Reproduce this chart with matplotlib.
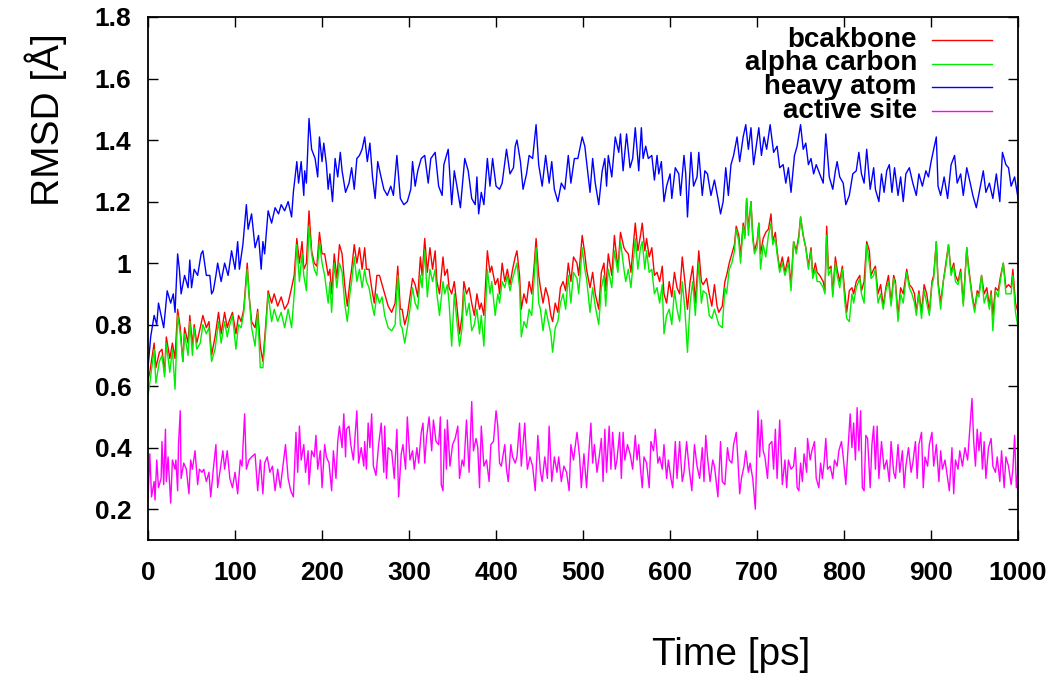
# RMSD vs time plot (gnuplot style)

import matplotlib
matplotlib.use("Agg")
import matplotlib.pyplot as plt
from matplotlib.lines import Line2D
from matplotlib.ticker import FuncFormatter, MultipleLocator

plt.rcParams['font.family'] = ['Liberation Sans', 'DejaVu Sans']

# heavy atom RMSD
t_heavy = [0, 3, 7, 10, 12, 18, 22, 26, 29, 31, 34, 36, 38, 42, 46, 48, 50, 53, 57, 61,
           63, 67, 71, 73, 75, 78, 80, 84, 88, 92, 96, 100, 103, 105, 109, 113, 115, 119, 123, 127,
           130, 132, 134, 138, 142, 146, 150, 153, 157, 161, 165, 167, 171, 173, 176, 179, 180, 182, 185, 188,
           192, 195, 197, 200, 202, 205, 207, 209, 212, 215, 218, 221, 223, 227, 231, 234, 237, 240, 243, 246,
           249, 252, 255, 258, 261, 264, 267, 271, 275, 279, 282, 286, 290, 294, 298, 302, 304, 307, 310, 314,
           318, 322, 325, 330, 334, 338, 340, 345, 349, 352, 355, 359, 364, 368, 372, 376, 378, 380, 383, 386,
           390, 393, 396, 400, 404, 407, 412, 416, 420, 422, 424, 428, 431, 435, 438, 442, 446, 449, 453, 457,
           461, 464, 467, 471, 475, 479, 483, 486, 490, 494, 499, 502, 504, 508, 511, 514, 518, 522, 525, 527,
           529, 533, 537, 541, 543, 546, 550, 554, 557, 560, 564, 567, 569, 572, 575, 579, 582, 585, 587, 590,
           593, 596, 600, 602, 606, 610, 612, 616, 618, 620, 624, 627, 631, 633, 637, 640, 643, 647, 651, 655,
           658, 661, 664, 667, 670, 673, 677, 680, 684, 687, 690, 693, 696, 699, 702, 705, 708, 711, 715, 719,
           723, 726, 730, 733, 736, 739, 743, 746, 750, 753, 756, 759, 762, 765, 768, 772, 776, 779, 783, 787,
           790, 792, 795, 799, 802, 806, 810, 814, 817, 820, 823, 826, 830, 834, 836, 840, 843, 846, 849, 852,
           855, 858, 862, 865, 868, 871, 875, 879, 883, 886, 890, 894, 897, 900, 903, 906, 908, 911, 915, 919,
           923, 927, 930, 934, 937, 941, 945, 948, 952, 956, 960, 963, 967, 971, 975, 979, 982, 986, 989, 992,
           996, 1000]
rmsd_heavy = [0.66, 0.76, 0.83, 0.80, 0.87, 0.79, 0.91, 0.87, 0.90, 0.84, 1.03, 0.98, 0.90, 0.96, 0.92, 1.01, 0.92, 0.98, 0.96, 1.03,
              1.04, 0.96, 0.96, 0.90, 0.91, 0.96, 1.00, 0.94, 1.00, 0.96, 1.04, 0.98, 1.07, 0.98, 1.06, 1.19, 1.11, 1.16, 1.05, 1.09,
              0.98, 1.07, 1.03, 1.17, 1.13, 1.18, 1.16, 1.19, 1.17, 1.20, 1.15, 1.23, 1.33, 1.26, 1.33, 1.22, 1.30, 1.26, 1.47, 1.37,
              1.34, 1.28, 1.41, 1.33, 1.39, 1.32, 1.24, 1.29, 1.20, 1.34, 1.28, 1.36, 1.30, 1.23, 1.26, 1.31, 1.24, 1.34, 1.35, 1.37,
              1.41, 1.33, 1.39, 1.28, 1.21, 1.33, 1.29, 1.24, 1.22, 1.25, 1.22, 1.35, 1.21, 1.19, 1.20, 1.24, 1.33, 1.25, 1.30, 1.34,
              1.35, 1.26, 1.34, 1.36, 1.25, 1.22, 1.32, 1.37, 1.19, 1.30, 1.25, 1.18, 1.34, 1.30, 1.21, 1.19, 1.28, 1.16, 1.23, 1.19,
              1.34, 1.25, 1.34, 1.25, 1.24, 1.26, 1.37, 1.29, 1.31, 1.38, 1.40, 1.33, 1.24, 1.29, 1.35, 1.34, 1.45, 1.32, 1.25, 1.35,
              1.26, 1.33, 1.24, 1.20, 1.26, 1.24, 1.35, 1.26, 1.34, 1.34, 1.41, 1.38, 1.33, 1.23, 1.34, 1.26, 1.19, 1.30, 1.34, 1.25,
              1.35, 1.28, 1.41, 1.36, 1.42, 1.30, 1.42, 1.31, 1.34, 1.44, 1.30, 1.44, 1.34, 1.38, 1.34, 1.35, 1.27, 1.35, 1.29, 1.33,
              1.20, 1.25, 1.29, 1.21, 1.31, 1.29, 1.22, 1.35, 1.29, 1.15, 1.36, 1.25, 1.28, 1.36, 1.22, 1.30, 1.29, 1.22, 1.27, 1.21,
              1.16, 1.20, 1.31, 1.22, 1.32, 1.35, 1.41, 1.33, 1.41, 1.45, 1.37, 1.44, 1.32, 1.38, 1.44, 1.35, 1.41, 1.37, 1.45, 1.36,
              1.38, 1.31, 1.32, 1.26, 1.31, 1.23, 1.35, 1.38, 1.45, 1.37, 1.39, 1.32, 1.34, 1.29, 1.32, 1.29, 1.26, 1.42, 1.28, 1.24,
              1.30, 1.33, 1.28, 1.26, 1.19, 1.22, 1.29, 1.30, 1.36, 1.29, 1.26, 1.37, 1.24, 1.31, 1.24, 1.20, 1.29, 1.23, 1.30, 1.32,
              1.23, 1.31, 1.22, 1.28, 1.20, 1.29, 1.31, 1.26, 1.22, 1.29, 1.25, 1.30, 1.28, 1.33, 1.37, 1.41, 1.25, 1.22, 1.28, 1.21,
              1.32, 1.35, 1.26, 1.29, 1.22, 1.31, 1.26, 1.22, 1.18, 1.24, 1.30, 1.23, 1.26, 1.21, 1.29, 1.20, 1.36, 1.32, 1.31, 1.25,
              1.28, 1.21]

# backbone and alpha carbon share the same time points
t_bb = [0, 2, 7, 9, 13, 16, 19, 21, 25, 28, 31, 34, 37, 40, 42, 46, 48, 51, 53, 56,
        60, 63, 67, 70, 73, 77, 81, 84, 88, 91, 93, 97, 101, 104, 107, 110, 114, 116, 119, 123,
        126, 129, 132, 135, 138, 142, 145, 149, 153, 157, 161, 165, 168, 171, 174, 177, 179, 182, 185, 188,
        191, 194, 197, 200, 203, 207, 209, 211, 214, 217, 220, 223, 226, 229, 232, 234, 237, 240, 243, 246,
        249, 251, 254, 257, 260, 263, 266, 269, 272, 276, 280, 284, 287, 290, 292, 295, 298, 301, 304, 307,
        310, 313, 315, 318, 321, 324, 327, 330, 332, 335, 339, 341, 344, 346, 349, 352, 355, 358, 361, 363,
        366, 369, 372, 375, 378, 381, 383, 386, 390, 393, 395, 399, 402, 404, 407, 410, 413, 416, 419, 422,
        424, 427, 429, 432, 435, 438, 441, 444, 446, 449, 451, 454, 457, 460, 463, 465, 468, 471, 474, 477,
        480, 483, 486, 489, 493, 495, 499, 502, 504, 508, 511, 514, 518, 521, 524, 526, 529, 533, 536, 540,
        543, 547, 549, 552, 555, 560, 563, 566, 568, 571, 573, 576, 579, 582, 585, 588, 591, 593, 596, 599,
        602, 605, 608, 611, 614, 617, 620, 623, 626, 629, 633, 636, 638, 642, 645, 648, 651, 654, 656, 660,
        663, 665, 668, 671, 674, 676, 679, 681, 684, 686, 688, 690, 693, 695, 697, 700, 702, 704, 707, 710,
        713, 716, 718, 721, 723, 726, 729, 732, 736, 739, 742, 745, 748, 750, 753, 756, 759, 762, 764, 767,
        769, 772, 776, 778, 780, 782, 785, 787, 790, 792, 795, 798, 801, 803, 806, 809, 811, 814, 818, 820,
        823, 826, 829, 831, 834, 836, 839, 842, 845, 848, 851, 854, 857, 859, 862, 865, 868, 872, 875, 878,
        881, 883, 886, 889, 892, 895, 898, 901, 903, 906, 908, 911, 914, 917, 920, 923, 926, 928, 931, 934,
        937, 941, 943, 947, 950, 953, 955, 958, 961, 964, 967, 969, 971, 974, 977, 980, 983, 986, 989, 992,
        994, 997, 1000]
rmsd_backbone = [0.62, 0.645, 0.74, 0.66, 0.71, 0.72, 0.645, 0.76, 0.69, 0.74, 0.69, 0.85, 0.79, 0.68, 0.79, 0.74, 0.83, 0.73, 0.80, 0.74,
                 0.79, 0.83, 0.79, 0.81, 0.70, 0.76, 0.84, 0.77, 0.84, 0.79, 0.81, 0.84, 0.77, 0.83, 0.81, 0.85, 1.00, 0.90, 0.81, 0.79,
                 0.85, 0.73, 0.68, 0.79, 0.91, 0.87, 0.90, 0.86, 0.89, 0.85, 0.87, 0.92, 0.96, 1.08, 1.00, 1.07, 0.98, 1.00, 1.17, 1.04,
                 1.00, 0.99, 1.10, 1.03, 1.03, 0.96, 0.98, 0.90, 1.03, 0.95, 1.06, 1.03, 0.93, 0.86, 0.94, 0.98, 1.06, 1.00, 1.05, 0.98,
                 1.05, 0.98, 0.98, 0.92, 0.87, 0.96, 0.96, 0.93, 0.90, 0.86, 0.84, 0.87, 0.99, 0.85, 0.85, 0.80, 0.83, 0.89, 0.95, 0.93,
                 0.89, 1.02, 0.96, 1.08, 0.97, 1.05, 0.98, 1.04, 0.94, 0.90, 1.02, 0.96, 0.98, 0.92, 0.90, 0.94, 0.86, 0.77, 0.83, 0.94,
                 0.90, 0.92, 0.87, 0.83, 0.90, 0.85, 0.87, 0.83, 1.04, 0.97, 0.99, 0.93, 0.95, 0.90, 1.00, 0.94, 0.98, 0.93, 0.98, 1.02,
                 1.04, 0.96, 0.85, 0.90, 0.87, 0.94, 0.90, 1.00, 1.08, 0.96, 0.92, 0.87, 0.92, 0.89, 0.83, 0.81, 0.87, 0.84, 0.92, 0.94,
                 0.91, 1.00, 0.94, 1.02, 1.00, 0.96, 1.09, 1.03, 0.98, 0.92, 0.97, 0.90, 0.85, 0.97, 1.00, 0.91, 1.03, 0.96, 1.09, 0.98,
                 1.10, 1.05, 1.04, 1.03, 0.97, 1.13, 1.04, 1.09, 1.13, 1.04, 1.08, 1.02, 1.05, 0.96, 0.97, 0.94, 0.99, 0.90, 0.87, 0.94,
                 0.89, 0.97, 0.92, 0.90, 1.02, 0.94, 0.85, 0.94, 0.99, 0.87, 1.04, 0.94, 0.93, 0.95, 0.90, 0.86, 0.93, 0.86, 0.84, 0.86,
                 0.94, 0.96, 1.00, 1.03, 1.06, 1.12, 1.09, 1.02, 1.13, 1.09, 1.21, 1.11, 1.20, 1.09, 1.04, 1.07, 1.13, 1.03, 1.08, 1.10,
                 1.11, 1.16, 1.07, 1.10, 1.04, 0.98, 1.02, 0.97, 1.02, 0.93, 1.07, 1.04, 1.09, 1.15, 1.09, 1.05, 0.99, 1.05, 0.96, 1.00,
                 0.97, 0.96, 0.94, 0.91, 1.12, 0.98, 0.99, 0.90, 1.02, 0.98, 0.94, 0.99, 0.90, 0.84, 0.91, 0.92, 0.90, 0.94, 0.96, 0.91,
                 0.94, 1.07, 1.04, 0.96, 0.98, 0.99, 0.90, 0.93, 0.86, 0.92, 0.96, 0.87, 0.96, 0.94, 0.83, 0.92, 0.90, 0.98, 0.93, 0.92,
                 0.90, 0.84, 0.91, 0.84, 0.93, 0.90, 0.84, 0.94, 0.96, 1.07, 0.94, 0.87, 0.94, 1.00, 1.06, 0.97, 1.00, 0.96, 0.94, 0.98,
                 0.87, 1.05, 0.99, 0.90, 0.85, 0.91, 0.90, 0.96, 0.90, 0.92, 0.86, 0.91, 0.83, 0.92, 0.91, 0.96, 1.00, 0.92, 0.93, 0.92,
                 0.98, 0.87, 0.84]
rmsd_alpha = [0.57, 0.61, 0.72, 0.61, 0.68, 0.70, 0.63, 0.74, 0.645, 0.72, 0.59, 0.83, 0.77, 0.68, 0.77, 0.70, 0.81, 0.70, 0.79, 0.72,
              0.74, 0.80, 0.77, 0.79, 0.68, 0.72, 0.81, 0.74, 0.81, 0.76, 0.79, 0.83, 0.72, 0.80, 0.79, 0.84, 0.98, 0.90, 0.79, 0.73,
              0.84, 0.66, 0.66, 0.77, 0.90, 0.81, 0.85, 0.81, 0.84, 0.79, 0.85, 0.79, 0.90, 1.06, 0.94, 1.03, 0.96, 0.91, 1.12, 1.03,
              0.98, 0.96, 1.07, 1.00, 0.96, 0.87, 0.94, 0.84, 1.00, 0.92, 1.00, 0.97, 0.87, 0.81, 0.90, 0.94, 1.02, 0.94, 0.98, 0.92,
              0.98, 0.94, 0.92, 0.87, 0.83, 0.90, 0.87, 0.89, 0.83, 0.79, 0.78, 0.80, 0.96, 0.80, 0.79, 0.74, 0.79, 0.85, 0.92, 0.87,
              0.85, 0.96, 0.92, 1.04, 0.89, 0.98, 0.94, 0.98, 0.90, 0.83, 0.94, 0.90, 0.93, 0.87, 0.73, 0.90, 0.81, 0.73, 0.79, 0.91,
              0.83, 0.87, 0.78, 0.80, 0.85, 0.77, 0.83, 0.73, 0.98, 0.90, 0.94, 0.83, 0.90, 0.87, 0.94, 0.92, 0.96, 0.91, 0.95, 0.98,
              1.00, 0.92, 0.76, 0.81, 0.79, 0.85, 0.83, 0.96, 1.05, 0.87, 0.85, 0.78, 0.85, 0.81, 0.77, 0.71, 0.79, 0.81, 0.87, 0.90,
              0.85, 0.96, 0.87, 0.97, 0.95, 0.90, 1.05, 0.98, 0.95, 0.84, 0.92, 0.86, 0.80, 0.92, 0.96, 0.86, 0.98, 0.92, 1.04, 0.97,
              1.07, 0.98, 0.94, 0.98, 0.92, 1.08, 0.98, 1.05, 1.07, 0.98, 1.04, 0.97, 0.98, 0.90, 0.92, 0.87, 0.93, 0.77, 0.83, 0.85,
              0.80, 0.91, 0.85, 0.81, 0.94, 0.85, 0.71, 0.87, 0.94, 0.83, 1.00, 0.87, 0.91, 0.90, 0.83, 0.82, 0.85, 0.82, 0.80, 0.79,
              0.92, 0.90, 0.98, 1.00, 1.04, 1.11, 1.07, 1.00, 1.12, 1.08, 1.21, 1.09, 1.20, 1.08, 1.03, 1.05, 1.13, 0.98, 1.06, 1.02,
              1.09, 1.13, 1.06, 1.08, 1.03, 0.97, 1.00, 0.96, 1.00, 0.91, 1.07, 1.03, 1.08, 1.15, 1.09, 1.05, 0.98, 1.04, 0.95, 0.98,
              0.94, 0.94, 0.92, 0.90, 1.09, 0.96, 0.98, 0.89, 1.00, 0.96, 0.92, 0.98, 0.87, 0.82, 0.81, 0.90, 0.87, 0.92, 0.95, 0.90,
              0.87, 1.06, 1.00, 0.95, 0.96, 0.98, 0.87, 0.90, 0.85, 0.91, 0.94, 0.86, 0.95, 0.93, 0.81, 0.90, 0.87, 0.97, 0.92, 0.90,
              0.87, 0.83, 0.90, 0.82, 0.91, 0.87, 0.83, 0.93, 0.95, 1.07, 0.93, 0.85, 0.94, 0.99, 1.06, 0.96, 0.99, 0.94, 0.93, 0.97,
              0.86, 1.05, 0.98, 0.89, 0.84, 0.90, 0.89, 0.96, 0.87, 0.90, 0.85, 0.90, 0.78, 0.91, 0.89, 0.95, 1.00, 0.90, 0.90, 0.90,
              0.96, 0.84, 0.79]

# active site RMSD
t_site = [0, 2, 4, 7, 8, 10, 12, 15, 16, 18, 20, 21, 23, 26, 28, 31, 32, 34, 35, 37,
          38, 41, 44, 47, 49, 51, 54, 57, 59, 62, 64, 67, 70, 72, 75, 78, 80, 83, 86, 88,
          91, 94, 97, 100, 103, 106, 108, 111, 113, 116, 119, 123, 126, 129, 132, 134, 137, 140, 143, 146,
          149, 152, 155, 158, 161, 164, 167, 170, 172, 174, 176, 179, 181, 184, 185, 188, 191, 193, 195, 198,
          200, 203, 205, 208, 211, 213, 216, 218, 220, 223, 225, 227, 228, 231, 233, 236, 240, 242, 245, 248,
          249, 251, 253, 255, 257, 259, 262, 265, 268, 271, 272, 274, 276, 280, 283, 286, 288, 291, 293, 296,
          298, 301, 304, 306, 309, 311, 314, 316, 318, 320, 323, 326, 328, 331, 334, 336, 337, 339, 341, 343,
          344, 347, 350, 353, 356, 358, 361, 363, 366, 369, 372, 374, 377, 379, 381, 383, 386, 389, 392, 394,
          397, 400, 402, 404, 406, 410, 412, 414, 417, 419, 422, 424, 427, 429, 433, 434, 436, 439, 442, 445,
          448, 451, 453, 456, 459, 461, 464, 467, 470, 472, 475, 478, 481, 484, 486, 489, 493, 496, 498, 501,
          504, 506, 509, 511, 513, 516, 519, 521, 523, 525, 527, 530, 532, 534, 537, 539, 542, 544, 546, 548,
          551, 554, 557, 560, 562, 564, 566, 568, 570, 573, 576, 578, 581, 583, 586, 588, 591, 593, 596, 598,
          601, 603, 606, 608, 611, 614, 616, 619, 622, 625, 628, 631, 634, 637, 639, 641, 643, 646, 649, 651,
          655, 658, 660, 663, 666, 668, 671, 673, 676, 678, 680, 682, 685, 687, 690, 692, 695, 698, 701, 703,
          705, 707, 709, 712, 714, 717, 719, 721, 723, 726, 729, 732, 734, 736, 739, 742, 744, 746, 748, 750,
          752, 754, 757, 758, 761, 763, 766, 768, 771, 773, 775, 777, 779, 781, 784, 787, 789, 792, 794, 797,
          799, 802, 804, 807, 809, 811, 813, 815, 817, 819, 821, 823, 825, 827, 830, 832, 834, 836, 838, 840,
          843, 846, 849, 852, 854, 857, 859, 862, 864, 867, 869, 871, 874, 877, 879, 882, 884, 886, 889, 891,
          893, 896, 898, 901, 903, 906, 909, 911, 913, 916, 919, 921, 924, 926, 928, 931, 933, 936, 939, 942,
          945, 947, 949, 951, 953, 955, 957, 959, 961, 963, 966, 969, 971, 974, 976, 979, 981, 984, 986, 989,
          992, 994, 996, 998, 1000]
rmsd_site = [0.23, 0.38, 0.24, 0.29, 0.23, 0.36, 0.27, 0.30, 0.42, 0.28, 0.46, 0.29, 0.37, 0.22, 0.36, 0.33, 0.36, 0.26, 0.41, 0.52,
             0.30, 0.35, 0.33, 0.25, 0.36, 0.33, 0.39, 0.28, 0.33, 0.32, 0.33, 0.29, 0.32, 0.24, 0.33, 0.41, 0.27, 0.33, 0.39, 0.33,
             0.39, 0.30, 0.27, 0.32, 0.25, 0.36, 0.34, 0.51, 0.33, 0.36, 0.37, 0.38, 0.26, 0.36, 0.25, 0.35, 0.37, 0.32, 0.34, 0.26,
             0.33, 0.27, 0.34, 0.41, 0.30, 0.26, 0.24, 0.45, 0.32, 0.47, 0.36, 0.41, 0.32, 0.39, 0.28, 0.39, 0.37, 0.44, 0.33, 0.39,
             0.27, 0.41, 0.37, 0.35, 0.26, 0.39, 0.30, 0.42, 0.47, 0.40, 0.51, 0.37, 0.46, 0.47, 0.41, 0.36, 0.52, 0.35, 0.40, 0.34,
             0.42, 0.33, 0.48, 0.40, 0.51, 0.34, 0.31, 0.41, 0.48, 0.32, 0.47, 0.30, 0.40, 0.39, 0.30, 0.46, 0.24, 0.38, 0.41, 0.33,
             0.50, 0.36, 0.39, 0.33, 0.40, 0.35, 0.45, 0.48, 0.35, 0.43, 0.50, 0.39, 0.49, 0.42, 0.41, 0.50, 0.28, 0.26, 0.46, 0.33,
             0.49, 0.34, 0.41, 0.43, 0.47, 0.30, 0.36, 0.34, 0.49, 0.32, 0.55, 0.39, 0.43, 0.40, 0.27, 0.47, 0.34, 0.36, 0.29, 0.41,
             0.42, 0.52, 0.47, 0.35, 0.34, 0.41, 0.33, 0.29, 0.41, 0.37, 0.35, 0.37, 0.48, 0.34, 0.48, 0.42, 0.33, 0.37, 0.34, 0.26,
             0.44, 0.32, 0.29, 0.37, 0.30, 0.47, 0.29, 0.37, 0.32, 0.37, 0.29, 0.34, 0.32, 0.26, 0.41, 0.36, 0.45, 0.37, 0.27, 0.38,
             0.27, 0.36, 0.48, 0.35, 0.41, 0.32, 0.38, 0.43, 0.29, 0.46, 0.32, 0.47, 0.33, 0.45, 0.33, 0.36, 0.45, 0.30, 0.45, 0.36,
             0.41, 0.38, 0.33, 0.44, 0.36, 0.41, 0.33, 0.27, 0.37, 0.35, 0.27, 0.42, 0.39, 0.46, 0.35, 0.37, 0.33, 0.41, 0.30, 0.36,
             0.30, 0.27, 0.42, 0.30, 0.42, 0.29, 0.32, 0.42, 0.33, 0.26, 0.41, 0.34, 0.30, 0.40, 0.29, 0.44, 0.37, 0.29, 0.36, 0.34,
             0.24, 0.42, 0.29, 0.28, 0.40, 0.36, 0.35, 0.41, 0.45, 0.36, 0.25, 0.30, 0.34, 0.39, 0.32, 0.35, 0.30, 0.20, 0.52, 0.37,
             0.49, 0.39, 0.37, 0.30, 0.41, 0.42, 0.33, 0.46, 0.30, 0.49, 0.28, 0.36, 0.27, 0.36, 0.33, 0.34, 0.40, 0.27, 0.26, 0.35,
             0.29, 0.38, 0.32, 0.43, 0.36, 0.39, 0.42, 0.30, 0.27, 0.35, 0.30, 0.35, 0.43, 0.33, 0.34, 0.30, 0.36, 0.34, 0.39, 0.42,
             0.37, 0.28, 0.37, 0.51, 0.40, 0.48, 0.36, 0.53, 0.39, 0.52, 0.27, 0.26, 0.44, 0.43, 0.27, 0.41, 0.47, 0.33, 0.47, 0.30,
             0.42, 0.33, 0.36, 0.29, 0.42, 0.32, 0.30, 0.41, 0.32, 0.39, 0.27, 0.34, 0.40, 0.32, 0.35, 0.42, 0.30, 0.41, 0.45, 0.27,
             0.37, 0.34, 0.41, 0.45, 0.34, 0.41, 0.29, 0.39, 0.33, 0.36, 0.30, 0.26, 0.40, 0.25, 0.36, 0.33, 0.39, 0.34, 0.40, 0.36,
             0.48, 0.56, 0.42, 0.34, 0.46, 0.39, 0.45, 0.33, 0.42, 0.30, 0.40, 0.43, 0.34, 0.32, 0.37, 0.29, 0.39, 0.27, 0.37, 0.34,
             0.28, 0.33, 0.44, 0.27, 0.33]

labels = ["bcakbone", "alpha carbon", "heavy atom", "active site"]
colors = ["#ff0000", "#00ee00", "#0000ff", "#ff00ff"]

fig = plt.figure(figsize=(10.56, 6.77), dpi=100)
ax = fig.add_axes([0.1402, 0.2024, 0.8239, 0.7725])

# same draw order as gnuplot: later curves on top
ax.plot(t_bb, rmsd_backbone, color=colors[0], lw=1.0)
ax.plot(t_bb, rmsd_alpha, color=colors[1], lw=1.0)
ax.plot(t_heavy, rmsd_heavy, color=colors[2], lw=1.0)
ax.plot(t_site, rmsd_site, color=colors[3], lw=1.0)

ax.set_xlim(0, 1000)
ax.set_ylim(0.1, 1.8)
ax.xaxis.set_major_locator(MultipleLocator(100))
ax.set_yticks([0.2, 0.4, 0.6, 0.8, 1.0, 1.2, 1.4, 1.6, 1.8])
ax.yaxis.set_major_formatter(FuncFormatter(lambda v, p: "%g" % v))

ax.tick_params(direction="in", length=7, width=1, top=True, right=True,
               labelsize=19)
ax.tick_params(axis="x", pad=15)
ax.tick_params(axis="y", pad=12)
for lab in ax.get_xticklabels() + ax.get_yticklabels():
    lab.set_fontweight("bold")
for sp in ax.spines.values():
    sp.set_linewidth(1.3)

# axis titles sit where gnuplot put them
fig.text(0.692, 0.032, "Time [ps]", ha="center", va="center", fontsize=28)
fig.text(0.043, 0.823, "RMSD [Å]", ha="center", va="center", fontsize=28,
         rotation=90)

# key: text right-justified, sample line to the right
for i, (lab, col) in enumerate(zip(labels, colors)):
    y = 1 - (40 + 23.5 * i) / 677
    fig.text(917 / 1056, y, lab, ha="right", va="center", fontsize=20,
             fontweight="bold")
    fig.add_artist(Line2D([932 / 1056, 992 / 1056], [y, y], color=col, lw=1.0))

plt.savefig("out.png", dpi=100)
